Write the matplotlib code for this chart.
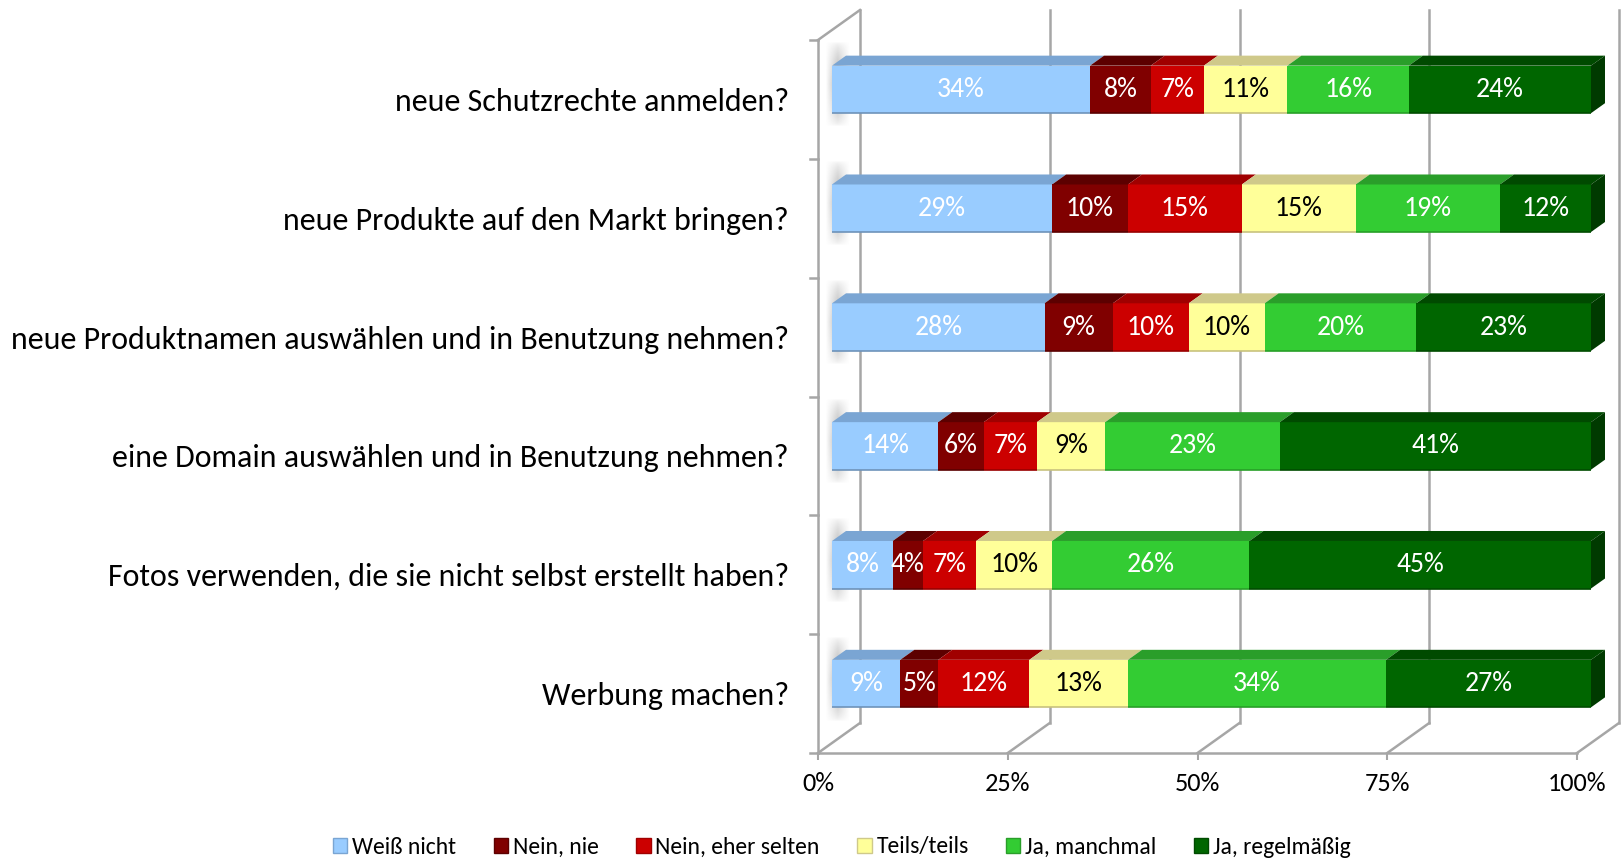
import matplotlib
matplotlib.use("Agg")
import matplotlib.pyplot as plt
import numpy as np
from matplotlib.patches import Polygon, Patch
from matplotlib import font_manager

# ---------------- data ----------------
categories = [
    "neue Schutzrechte anmelden?",
    "neue Produkte auf den Markt bringen?",
    "neue Produktnamen auswählen und in Benutzung nehmen?",
    "eine Domain auswählen und in Benutzung nehmen?",
    "Fotos verwenden, die sie nicht selbst erstellt haben?",
    "Werbung machen?",
]
series_names = ["Weiß nicht", "Nein, nie", "Nein, eher selten",
                "Teils/teils", "Ja, manchmal", "Ja, regelmäßig"]
weiss_nicht = [34, 29, 28, 14, 8, 9]
nein_nie = [8, 10, 9, 6, 4, 5]
nein_selten = [7, 15, 10, 7, 7, 12]
teils = [11, 15, 10, 9, 10, 13]
ja_manchmal = [16, 19, 20, 23, 26, 34]
ja_regel = [24, 12, 23, 41, 45, 27]
series_values = [weiss_nicht, nein_nie, nein_selten, teils, ja_manchmal, ja_regel]
x_ticks = [0, 25, 50, 75, 100]
x_ticklabels = ["0%", "25%", "50%", "75%", "100%"]

# ---------------- style ----------------
front_colors = ["#99CCFF", "#800000", "#CC0000", "#FFFF99", "#33CC33", "#006600"]
top_colors = ["#7AA5D3", "#5C0000", "#A00000", "#CFC98A", "#2A9E2A", "#004A00"]
side_colors = ["#6F96C0", "#4A0000", "#8A0000", "#B8B27A", "#238A23", "#003A00"]
edge_colors = ["#6E93BA", "#5A0000", "#990000", "#C8C27E", "#27A027", "#004C00"]
text_colors = ["white", "white", "white", "black", "white", "white"]
grid_color = "#A6A6A6"

avail = {f.name for f in font_manager.fontManager.ttflist}
fam = None
for cand in ["Carlito", "Calibri", "Liberation Sans Narrow", "Lato", "Open Sans", "DejaVu Sans"]:
    if cand in avail:
        fam = cand
        break
plt.rcParams["font.family"] = [fam, "DejaVu Sans"]

W, H = 1621, 858
fig = plt.figure(figsize=(W / 100, H / 100), dpi=100)
x_front0, x_front1 = 818, 1577
y_top, y_bot = 40, 753
ax = fig.add_axes([x_front0 / W, (H - y_bot) / H, (x_front1 - x_front0) / W, (y_bot - y_top) / H])
n = len(categories)
ax.set_xlim(0, 100)
ax.set_ylim(n - 0.5, -0.5)
for s in ax.spines.values():
    s.set_visible(False)
ax.patch.set_visible(False)

# depth of the 3D box in data units
px_x = (x_front1 - x_front0) / 100.0
px_y = (y_bot - y_top) / n
DX = 42 / px_x
DY = 30 / px_y
lw = 1.8

# walls / grid
y_lo, y_hi = -0.5, n - 0.5
for xv in x_ticks:
    ax.plot([xv + DX, xv + DX], [y_lo - DY, y_hi - DY], color=grid_color, lw=lw, clip_on=False, zorder=1)
    ax.plot([xv, xv + DX], [y_hi, y_hi - DY], color=grid_color, lw=lw, clip_on=False, zorder=1)
ax.plot([0, 100], [y_hi, y_hi], color=grid_color, lw=lw, clip_on=False, zorder=1)
ax.plot([0, 0], [y_lo, y_hi], color=grid_color, lw=lw, clip_on=False, zorder=1)
ax.plot([0, DX], [y_lo, y_lo - DY], color=grid_color, lw=lw, clip_on=False, zorder=1)
for k in range(n + 1):
    ax.plot([-8 / px_x, 0], [y_lo + k, y_lo + k], color=grid_color, lw=lw, clip_on=False, zorder=1)

# soft shadow of each bar on the left wall
bh = 0.4
dx, dy = DX / 3, DY / 3
gx = np.linspace(0, 1, 40)
gy = np.linspace(0, 1, 60)
GX, GY = np.meshgrid(gx, gy)
alpha = np.clip(1 - np.abs(GY - 0.5) * 2, 0, 1) ** 0.6 * np.clip(1 - np.abs(GX - 0.55) * 2.2, 0, 1)
shadow = np.zeros((60, 40, 4))
shadow[..., :3] = 0.45
shadow[..., 3] = alpha * 0.55
for i in range(n):
    yc = i - dy
    ax.imshow(shadow, extent=(dx * 0.35, DX * 0.75, yc + bh / 2 + 0.12, yc - bh / 2 - 0.2),
              aspect="auto", zorder=2, interpolation="bilinear", clip_on=False)
ax.set_xlim(0, 100)
ax.set_ylim(n - 0.5, -0.5)

# bars
for i in range(n):
    cum = 0.0
    for j, vals in enumerate(series_values):
        v = vals[i]
        x0 = cum + dx
        yc = i - dy
        ax.barh(yc, v, left=x0, height=bh, color=front_colors[j], zorder=3, clip_on=False)
        ax.plot([x0, x0 + v], [yc + bh / 2, yc + bh / 2], color=edge_colors[j], lw=1.2, zorder=3.5,
                solid_capstyle="butt", clip_on=False)
        ytop = yc - bh / 2
        ax.add_patch(Polygon([(x0, ytop), (x0 + v, ytop), (x0 + v + dx, ytop - dy), (x0 + dx, ytop - dy)],
                             closed=True, facecolor=top_colors[j], edgecolor="none", zorder=3, clip_on=False))
        if j == len(series_values) - 1:
            ax.add_patch(Polygon([(x0 + v, ytop), (x0 + v + dx, ytop - dy),
                                  (x0 + v + dx, ytop - dy + bh), (x0 + v, ytop + bh)],
                                 closed=True, facecolor=side_colors[j], edgecolor="none", zorder=3, clip_on=False))
        ax.text(x0 + v / 2, yc, f"{v}%", ha="center", va="center", color=text_colors[j],
                fontsize=20, zorder=5)
        cum += v

ax.set_yticks(range(n))
ax.set_yticklabels(categories, fontsize=23)
ax.tick_params(axis="y", length=0, pad=21)
ax.set_xticks(x_ticks)
ax.set_xticklabels(x_ticklabels, fontsize=19)
ax.tick_params(axis="x", length=5, width=1.5, color=grid_color, pad=9)

handles = [Patch(facecolor=front_colors[j], edgecolor=top_colors[j]) for j in range(len(series_names))]
fig.legend(handles, series_names, loc="center", bbox_to_anchor=(842 / W, 1 - 847 / H), ncol=6,
           frameon=False, fontsize=17, handlelength=0.6, handleheight=0.6, handletextpad=0.2,
           columnspacing=1.6)

fig.savefig("out.png", dpi=100)
